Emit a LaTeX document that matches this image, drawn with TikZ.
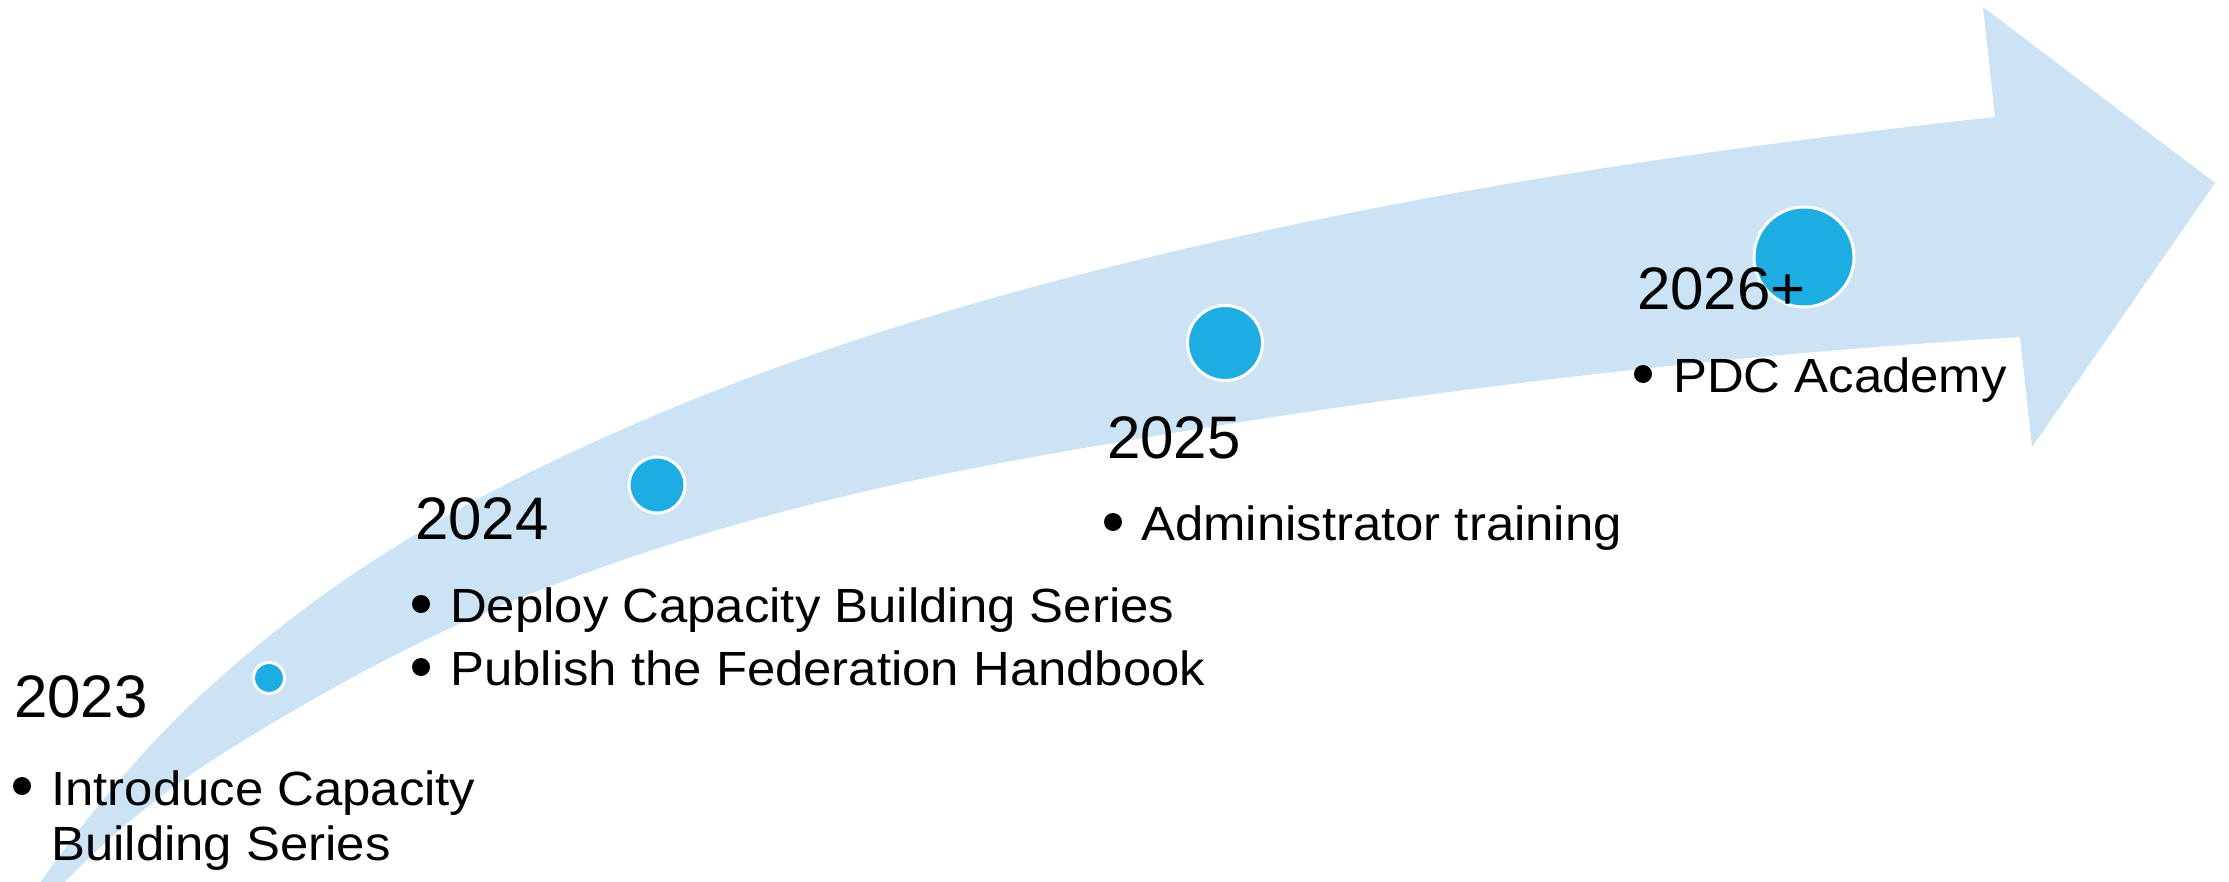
\documentclass[tikz,border=0pt]{standalone}
\usepackage{fontspec}
\setmainfont{Liberation Sans}
\newfontfamily\itemfont[FakeStretch=1.06]{Liberation Sans}
\definecolor{bandblue}{RGB}{204,227,245}
\definecolor{dotblue}{RGB}{30,173,227}
\tikzset{
  yearlabel/.style={anchor=base west, inner sep=0pt, font=\fontsize{60}{66}\selectfont},
  itemtext/.style={anchor=base west, inner sep=0pt, font=\itemfont\fontsize{48}{55}\selectfont},
  bulletdot/.style={circle, fill=black, inner sep=0pt, minimum size=18pt},
  milestone/.style={circle, fill=dotblue, draw=white, line width=3pt, inner sep=0pt},
}
\begin{document}
\begin{tikzpicture}[x=1pt,y=-1pt]
\useasboundingbox (0,0) rectangle (2229,882);
\begin{scope}
\clip (0,0) rectangle (2229,882);
\fill[bandblue] (28,900)
  .. controls (86.3,815.4) and (144.7,746.7) .. (203,693)
  .. controls (329.7,576.5) and (456.3,505.3) .. (583,447)
  .. controls (733,378) and (883,327.5) .. (1033,287)
  .. controls (1353.7,200.4) and (1674.3,152.3) .. (1995,117)
  -- (1983,7) -- (2215,183) -- (2032,447) -- (2020,337)
  .. controls (1691,356.7) and (1362,397.8) .. (1033,457)
  .. controls (862,487.8) and (691,529.6) .. (520,598)
  .. controls (424.3,636.3) and (328.7,687.7) .. (233,747)
  .. controls (171.3,785.2) and (109.7,832.2) .. (48,900)
  -- cycle;
\end{scope}
% milestones
\node[milestone, minimum size=31pt] (c23) at (269,678) {};
\node[milestone, minimum size=56pt] (c24) at (657,485) {};
\node[milestone, minimum size=75pt] (c25) at (1225,343) {};
\node[milestone, minimum size=100pt] (c26) at (1804,257) {};
% 2023
\node[yearlabel] (y23) at (14,717) {2023};
\node[bulletdot] (b23) at (22,786) {};
\node[itemtext] (t23a) at (51,805) {Introduce Capacity};
\node[itemtext] (t23b) at (51,860) {Building Series};
% 2024
\node[yearlabel] (y24) at (415,539) {2024};
\node[bulletdot] (b24a) at (421,604) {};
\node[itemtext] (t24a) at (450,622) {Deploy Capacity Building Series};
\node[bulletdot] (b24b) at (421,667) {};
\node[itemtext] (t24b) at (450,685) {Publish the Federation Handbook};
% 2025
\node[yearlabel] (y25) at (1107,458) {2025};
\node[bulletdot] (b25) at (1113,522) {};
\node[itemtext] (t25) at (1141,540) {Administrator training};
% 2026+
\node[yearlabel] (y26) at (1637,310) {2026+};
\node[bulletdot] (b26) at (1643,374) {};
\node[itemtext] (t26) at (1673,392) {PDC Academy};
\end{tikzpicture}
\end{document}
